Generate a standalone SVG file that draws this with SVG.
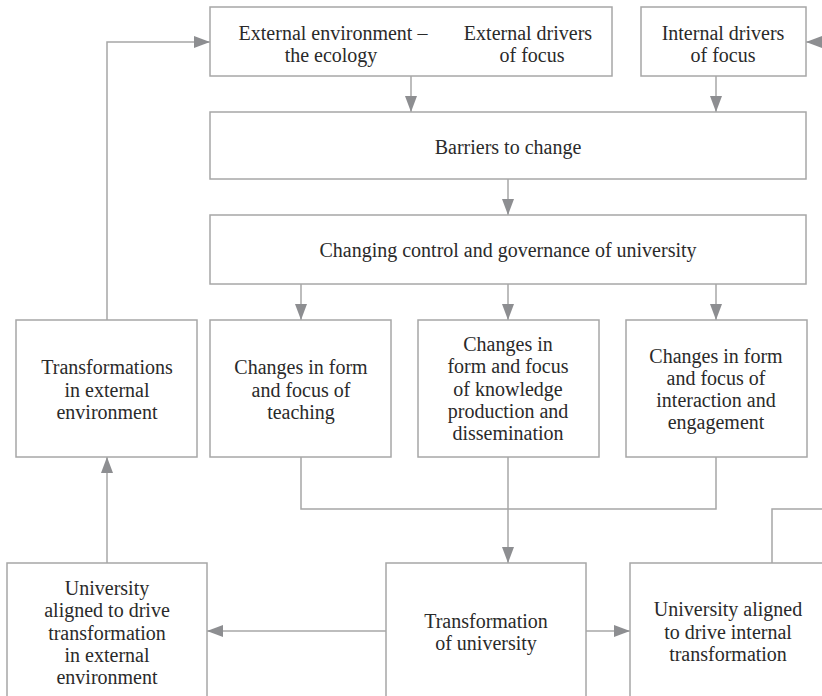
<svg xmlns="http://www.w3.org/2000/svg" width="822" height="696" viewBox="0 0 822 696">
<style>
.box{fill:#fff;stroke:#a7a7a7;stroke-width:1.5}
.t{font-family:"Liberation Serif","Times New Roman",serif;font-size:20px;fill:#2a2a2a;text-anchor:middle}
.c{fill:none;stroke:#a7a7a7;stroke-width:1.5}
.a{marker-end:url(#ah)}
</style>
<defs>
<marker id="ah" viewBox="0 0 16 12" refX="16" refY="6" markerWidth="16" markerHeight="12" markerUnits="userSpaceOnUse" orient="auto">
<path d="M0,0 L16,6 L0,12 z" fill="#8d8e91"/>
</marker>
</defs>
<rect width="822" height="696" fill="#fff"/>
<g id="connectors">
<path class="c a" d="M107,320 V42 H210"/>
<path class="c a" d="M107,563 V457"/>
<path class="c a" d="M411,76 V112"/>
<path class="c a" d="M716,76 V112"/>
<path class="c a" d="M822,42 H806"/>
<path class="c a" d="M508,179 V215"/>
<path class="c a" d="M301,284 V320"/>
<path class="c a" d="M508,284 V320"/>
<path class="c a" d="M716,284 V320"/>
<path class="c" d="M301,457 V509 H716 V457"/>
<path class="c a" d="M508,457 V563"/>
<path class="c a" d="M386,631 H207"/>
<path class="c a" d="M586,631 H630"/>
<path class="c" d="M772,563 V509 H824"/>
</g>
<g id="external">
<rect class="box" x="210" y="7" width="402" height="69"/>
<text class="t" x="333" y="39.5">External environment –</text>
<text class="t" x="331" y="62">the ecology</text>
<text class="t" x="528" y="39.5">External drivers</text>
<text class="t" x="532" y="62">of focus</text>
</g>
<g id="internal">
<rect class="box" x="641" y="7" width="165" height="69"/>
<text class="t" x="723" y="39.5">Internal drivers</text>
<text class="t" x="723" y="62">of focus</text>
</g>
<g id="barriers">
<rect class="box" x="210" y="112" width="596" height="67"/>
<text class="t" x="508" y="153.5">Barriers to change</text>
</g>
<g id="governance">
<rect class="box" x="210" y="215" width="596" height="69"/>
<text class="t" x="508" y="256.5">Changing control and governance of university</text>
</g>
<g id="transformations-external">
<rect class="box" x="16" y="320" width="181" height="137"/>
<text class="t" x="107" y="374.2">Transformations</text>
<text class="t" x="107" y="396.5">in external</text>
<text class="t" x="107" y="418.8">environment</text>
</g>
<g id="teaching">
<rect class="box" x="210" y="320" width="181" height="137"/>
<text class="t" x="301" y="374.2">Changes in form</text>
<text class="t" x="301" y="396.5">and focus of</text>
<text class="t" x="301" y="418.8">teaching</text>
</g>
<g id="knowledge">
<rect class="box" x="418" y="320" width="181" height="137"/>
<text class="t" x="508" y="351">Changes in</text>
<text class="t" x="508" y="373.3">form and focus</text>
<text class="t" x="508" y="395.6">of knowledge</text>
<text class="t" x="508" y="417.9">production and</text>
<text class="t" x="508" y="440.2">dissemination</text>
</g>
<g id="interaction">
<rect class="box" x="626" y="320" width="181" height="137"/>
<text class="t" x="716" y="362.5">Changes in form</text>
<text class="t" x="716" y="384.8">and focus of</text>
<text class="t" x="716" y="407.1">interaction and</text>
<text class="t" x="716" y="429.4">engagement</text>
</g>
<g id="university-external">
<rect class="box" x="7" y="563" width="200" height="140"/>
<text class="t" x="107" y="594.9">University</text>
<text class="t" x="107" y="617.2">aligned to drive</text>
<text class="t" x="107" y="639.5">transformation</text>
<text class="t" x="107" y="661.8">in external</text>
<text class="t" x="107" y="684.1">environment</text>
</g>
<g id="transformation-university">
<rect class="box" x="386" y="563" width="200" height="140"/>
<text class="t" x="486" y="627.9">Transformation</text>
<text class="t" x="486" y="650.2">of university</text>
</g>
<g id="university-internal">
<rect class="box" x="630" y="563" width="200" height="140"/>
<text class="t" x="728" y="616.2">University aligned</text>
<text class="t" x="728" y="638.5">to drive internal</text>
<text class="t" x="728" y="660.8">transformation</text>
</g>
</svg>
